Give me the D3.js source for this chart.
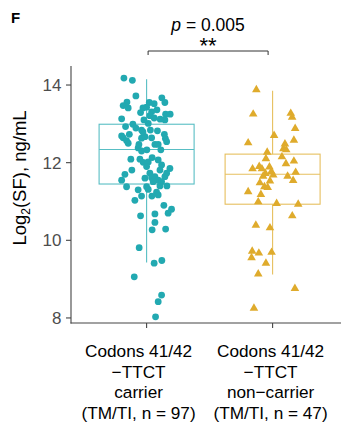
<!DOCTYPE html>
<html>
<head>
<meta charset="utf-8">
<script src="https://cdn.jsdelivr.net/npm/d3@7"></script>
<style>
  body { margin: 0; background: #fff; }
  text { font-family: "Liberation Sans", Arial, sans-serif; }
</style>
</head>
<body>
<svg id="chart"></svg>
<script>
// group labels, one line per entry
const groupLabels = [
    ["Codons 41/42", "\u2212TTCT", "carrier", "(TM/TI, n = 97)"],
    ["Codons 41/42", "\u2212TTCT", "non\u2212carrier", "(TM/TI, n = 47)"]
];
const yTicks = [8, 10, 12, 14];

// box stats (carrier, non-carrier)
const whiskerLow  = [9.43, 9.12];
const quart1      = [11.45, 10.93];
const medians     = [12.34, 11.70];
const quart3      = [12.99, 12.22];
const whiskerHigh = [14.15, 13.85];

// log2(SF) values and their horizontal jitter (fraction of a category step)
const carrierSF = [14.18, 14.12, 13.72, 13.67, 13.55, 13.56, 13.55, 13.52, 13.47, 13.41,
    13.43, 13.29, 13.31, 13.21, 13.15, 13.25, 13.25, 13.12, 13.10, 13.13,
    13.01, 12.99, 12.93, 12.89, 12.84, 12.84, 12.82, 12.73, 12.69, 12.73,
    12.64, 12.57, 12.50, 12.63, 12.67, 12.64, 12.62, 12.54, 12.38, 12.30,
    12.47, 12.47, 12.47, 12.09, 12.09, 12.01, 12.02, 12.13, 12.07, 11.94,
    11.90, 11.85, 11.73, 11.61, 11.64, 11.55, 11.64, 11.73, 11.51, 11.51,
    11.70, 11.55, 11.38, 11.30, 11.38, 11.31, 11.24, 11.17, 11.03, 11.14,
    10.90, 10.80, 10.70, 10.63, 10.68, 10.46, 10.27, 10.29, 9.81, 9.41,
    9.48, 9.06, 8.59, 8.42, 8.03, 13.41, 13.36, 13.10, 12.33, 12.33,
    11.81, 11.60, 11.81, 11.40, 11.14, 11.40, 12.79];
const carrierJitter = [-0.18, -0.113, -0.085, 0.121, 0.145, -0.156, 0.021, 0.06, -0.186, -0.146,
    0, -0.048, 0.04, 0.026, 0.06, 0.151, 0.187, 0.108, 0.145, -0.198,
    0.013, -0.109, -0.167, -0.085, -0.04, 0.03, 0.086, 0.141, -0.198, -0.137,
    -0.186, -0.159, -0.146, -0.04, -0.013, 0.04, 0.149, 0.159, -0.067, -0.04,
    0.066, 0.092, -0.061, -0.125, -0.053, -0.027, 0.013, 0.044, 0.092, 0.119,
    0, 0.185, 0.026, 0.04, 0.066, 0.092, 0.145, 0.159, 0.119, 0.052,
    -0.172, -0.198, -0.159, -0.067, 0, 0.013, 0.079, 0.092, -0.093, -0.04,
    0.137, 0.198, 0.171, -0.048, 0.066, 0.066, 0.044, 0.151, -0.059, 0.06,
    0.121, -0.098, 0.119, 0.092, 0.071, -0.029, 0.082, -0.021, 0.113, 0.002,
    0.106, -0.013, -0.117, 0.161, 0.042, 0.106, -0.029];

const nonCarrierSF = [13.88, 13.25, 13.27, 13.17, 12.88, 12.70, 12.58, 12.51, 12.48, 12.36,
    12.33, 12.27, 12.10, 11.97, 12.04, 11.84, 11.90, 11.89, 11.77, 11.72,
    11.65, 11.68, 11.65, 11.75, 11.54, 11.48, 11.38, 11.36, 11.25, 11.18,
    10.99, 10.95, 10.93, 10.63, 10.39, 10.32, 9.72, 9.67, 9.55, 9.69,
    9.41, 9.13, 8.76, 8.25, 11.84, 11.53, 12.15];
const nonCarrierJitter = [-0.129, -0.154, 0.144, 0.155, 0.179, 0.012, 0.169, -0.194, 0.098, 0.086,
    0.108, -0.043, -0.053, 0.106, 0.169, -0.159, -0.106, -0.025, -0.01, -0.057,
    -0.075, 0.005, 0.119, 0.183, 0.163, -0.101, -0.065, -0.039, -0.194, -0.093,
    -0.114, 0.032, 0.203, 0.156, -0.133, -0.021, -0.162, -0.109, -0.167, -0.008,
    -0.053, -0.114, 0.177, -0.148, -0.085, -0.021, 0.074];

const pointColor = ["#22a9b1", "#dfab2c"];
const boxColor   = ["#58bec4", "#e6bf5e"];

function main() {
    const width = 341, height = 423;
    const svg = d3.select("svg#chart")
        .attr("width", width)
        .attr("height", height);

    const x = d3.scaleLinear().domain([0.4, 2.6]).range([71, 348.2]);
    const y = d3.scaleLinear().domain([7.87, 14.49]).range([323, 66]);
    const boxHalf = 0.377; // half box width in category units

    DrawAxes(svg, x, y);

    // boxes
    [0, 1].forEach(i => {
        const g = svg.append("g")
            .attr("stroke", boxColor[i])
            .attr("stroke-width", 1.1)
            .attr("fill", "none");
        const cx = x(i + 1);
        g.append("line")
            .attr("x1", cx).attr("x2", cx)
            .attr("y1", y(quart3[i])).attr("y2", y(whiskerHigh[i]));
        g.append("line")
            .attr("x1", cx).attr("x2", cx)
            .attr("y1", y(quart1[i])).attr("y2", y(whiskerLow[i]));
        g.append("rect")
            .attr("x", x(i + 1 - boxHalf))
            .attr("y", y(quart3[i]))
            .attr("width", x(i + 1 + boxHalf) - x(i + 1 - boxHalf))
            .attr("height", y(quart1[i]) - y(quart3[i]));
        g.append("line")
            .attr("x1", x(i + 1 - boxHalf)).attr("x2", x(i + 1 + boxHalf))
            .attr("y1", y(medians[i])).attr("y2", y(medians[i]));
    });

    // carrier points
    svg.append("g").selectAll("circle")
        .data(carrierSF)
        .join("circle")
        .attr("cx", (d, k) => x(1 + carrierJitter[k]))
        .attr("cy", d => y(d))
        .attr("r", 3.4)
        .attr("fill", pointColor[0]);

    // non-carrier points
    const tri = d3.symbol().type(d3.symbolTriangle).size(32);
    svg.append("g").selectAll("path")
        .data(nonCarrierSF)
        .join("path")
        .attr("d", tri)
        .attr("transform", (d, k) => "translate(" + x(2 + nonCarrierJitter[k]) + "," + y(d) + ")")
        .attr("fill", pointColor[1]);

    DrawSignificance(svg, x);

    svg.append("text").text("F")
        .attr("x", 11).attr("y", 23)
        .attr("font-size", 15)
        .attr("font-weight", "bold")
        .attr("fill", "#000");
}

function DrawAxes(svg, x, y) {
    const axisCol = "#444";
    // y axis
    svg.append("line")
        .attr("x1", 71).attr("x2", 71)
        .attr("y1", y.range()[1]).attr("y2", y.range()[0] + 0.5)
        .attr("stroke", axisCol).attr("stroke-width", 1.1);
    yTicks.forEach(t => {
        svg.append("line")
            .attr("x1", 66).attr("x2", 71)
            .attr("y1", y(t)).attr("y2", y(t))
            .attr("stroke", axisCol).attr("stroke-width", 1.1);
        svg.append("text").text(t)
            .attr("x", 61.5).attr("y", y(t))
            .attr("dy", "0.36em")
            .attr("text-anchor", "end")
            .attr("font-size", 17)
            .attr("fill", "#4d4d4d");
    });
    // x axis
    svg.append("line")
        .attr("x1", 70.5).attr("x2", 341)
        .attr("y1", 323).attr("y2", 323)
        .attr("stroke", axisCol).attr("stroke-width", 1.1);
    const labelShift = [-8, -2]; // the labels sit a little left of their ticks
    groupLabels.forEach((lines, i) => {
        const cx = x(i + 1);
        svg.append("line")
            .attr("x1", cx).attr("x2", cx)
            .attr("y1", 323).attr("y2", 328)
            .attr("stroke", axisCol).attr("stroke-width", 1.1);
        const t = svg.append("text")
            .attr("text-anchor", "middle")
            .attr("font-size", 17.2)
            .attr("fill", "#000");
        lines.forEach((s, k) => {
            t.append("tspan").text(s)
                .attr("x", cx + labelShift[i])
                .attr("y", 357 + k * 20.5);
        });
    });
    // y title
    const yt = svg.append("text")
        .attr("transform", "translate(26," + 178 + ") rotate(-90)")
        .attr("text-anchor", "middle")
        .attr("font-size", 18.5)
        .attr("fill", "#000");
    yt.append("tspan").text("Log");
    yt.append("tspan").text("2").attr("font-size", 12).attr("dy", 4);
    yt.append("tspan").text("(SF), ng/mL").attr("dy", -4);
}

function DrawSignificance(svg, x) {
    const x1 = x(1) + 1.5, x2 = x(2) - 4.5, by = 51;
    svg.append("path")
        .attr("d", "M" + x1 + "," + (by + 4) + "V" + by + "H" + x2 + "V" + (by + 4))
        .attr("fill", "none")
        .attr("stroke", "#333")
        .attr("stroke-width", 1);
    const cx = (x1 + x2) / 2;
    const p = svg.append("text")
        .attr("x", cx).attr("y", 31)
        .attr("text-anchor", "middle")
        .attr("font-size", 17.5)
        .attr("fill", "#000");
    p.append("tspan").text("p").attr("font-style", "italic");
    p.append("tspan").text(" = 0.005");
    svg.append("text").text("**")
        .attr("x", cx).attr("y", 53)
        .attr("text-anchor", "middle")
        .attr("font-size", 22)
        .attr("fill", "#000");
}

main()
</script>
</body>
</html>
